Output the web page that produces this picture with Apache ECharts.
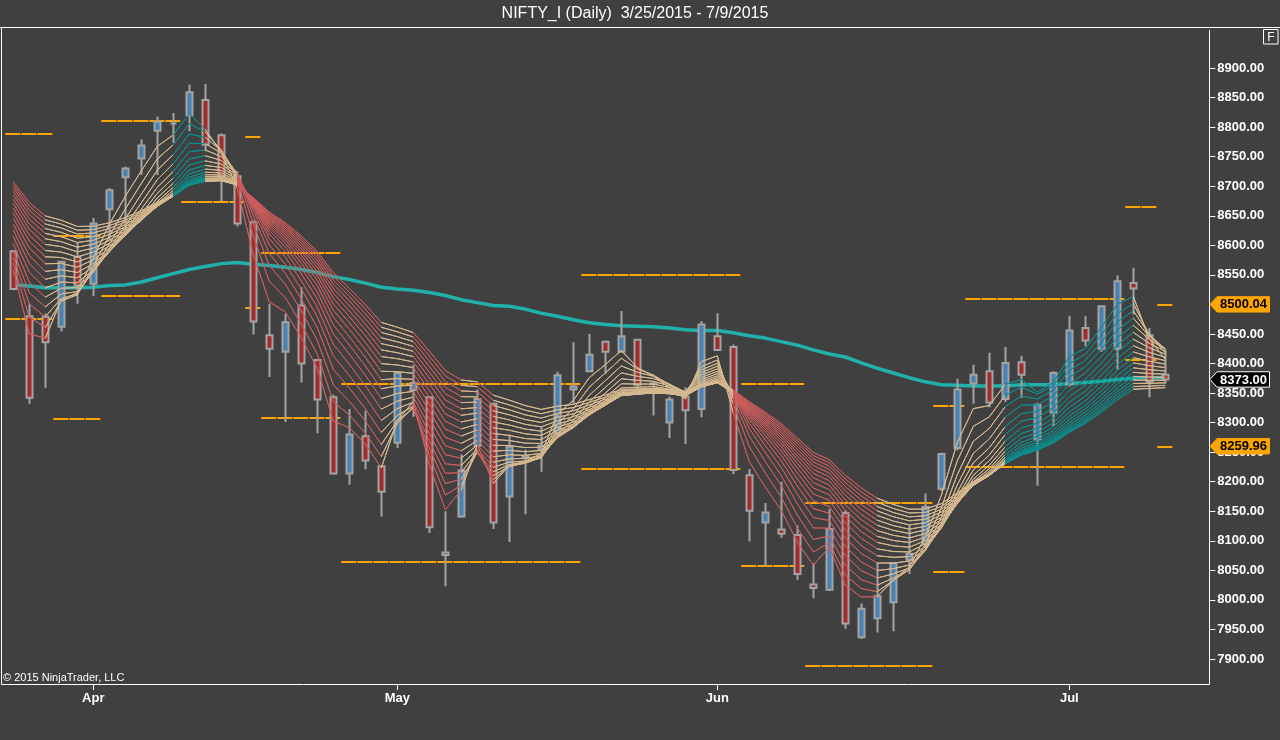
<!DOCTYPE html>
<html><head><meta charset="utf-8">
<script src="https://cdn.jsdelivr.net/npm/echarts@6/dist/echarts.min.js"></script>
<style>html,body{margin:0;padding:0;background:#404040;overflow:hidden}#c{width:1280px;height:740px}</style>
</head><body><div id="c"></div>
<script>
// ---- data ----
const dates = ['2015-03-25','2015-03-26','2015-03-27','2015-03-30','2015-03-31','2015-04-01','2015-04-06','2015-04-07','2015-04-08','2015-04-09',
'2015-04-10','2015-04-13','2015-04-15','2015-04-16','2015-04-17','2015-04-20','2015-04-21','2015-04-22','2015-04-23','2015-04-24',
'2015-04-27','2015-04-28','2015-04-29','2015-04-30','2015-05-04','2015-05-05','2015-05-06','2015-05-07','2015-05-08','2015-05-11',
'2015-05-12','2015-05-13','2015-05-14','2015-05-15','2015-05-18','2015-05-19','2015-05-20','2015-05-21','2015-05-22','2015-05-25',
'2015-05-26','2015-05-27','2015-05-28','2015-05-29','2015-06-01','2015-06-02','2015-06-03','2015-06-04','2015-06-05','2015-06-08',
'2015-06-09','2015-06-10','2015-06-11','2015-06-12','2015-06-15','2015-06-16','2015-06-17','2015-06-18','2015-06-19','2015-06-22',
'2015-06-23','2015-06-24','2015-06-25','2015-06-26','2015-06-29','2015-06-30','2015-07-01','2015-07-02','2015-07-03','2015-07-06',
'2015-07-07','2015-07-08','2015-07-09'];
const padDates = ['2015-07-10','2015-07-13'];
const opens  = [8590,8480,8479,8462,8580,8535,8661,8715,8747,8794, 8806,8820,8846,8786,8717,8639,8448,8420,8498,8406,
                8343,8214,8277,8226,8266,8355,8343,8080,8141,8261, 8332,8175,8243,8255,8280,8356,8387,8437,8420,8440,
                8366,8300,8344,8323,8446,8428,8211,8131,8119,8110, 8026,8017,8147,7937,7969,7996,8068,8095,8188,8257,
                8366,8387,8340,8402,8272,8317,8365,8460,8425,8425, 8536,8448,8381];
const highs  = [8592,8501,8484,8573,8604,8646,8697,8733,8779,8818, 8824,8872,8873,8789,8725,8642,8501,8484,8529,8408,
                8347,8323,8320,8228,8387,8398,8345,8150,8246,8356, 8334,8280,8254,8294,8386,8436,8450,8439,8489,8442,
                8370,8344,8360,8472,8485,8432,8221,8164,8200,8126, 8062,8154,8151,7994,8063,8064,8126,8180,8249,8374,
                8398,8418,8428,8413,8333,8387,8481,8480,8498,8549, 8562,8460,8423];
const lows   = [8524,8332,8359,8454,8501,8514,8608,8618,8719,8719, 8773,8793,8759,8674,8632,8449,8377,8301,8368,8282,
                8212,8195,8221,8141,8257,8310,8113,8023,8139,8259, 8120,8098,8145,8217,8278,8332,8385,8383,8418,8356,
                8312,8274,8264,8309,8422,8213,8099,8057,8105,8034, 8003,8015,7951,7934,7945,7947,8044,8088,8184,8253,
                8332,8326,8335,8342,8193,8294,8361,8429,8420,8390, 8483,8343,8366];
const closes = [8526,8342,8436,8572,8532,8637,8693,8730,8769,8809, 8806,8859,8770,8716,8637,8471,8425,8470,8400,8339,
                8214,8280,8236,8183,8384,8367,8123,8076,8219,8340, 8131,8259,8241,8261,8380,8361,8415,8420,8446,8364,
                8365,8339,8321,8466,8423,8220,8151,8148,8112,8044, 8020,8120,7960,7985,8006,8062,8078,8157,8247,8356,
                8381,8334,8401,8381,8330,8384,8456,8439,8497,8539, 8527,8369,8373];
// thick teal moving average
const maValues = [8533,8531,8528,8528,8528,8529,8532,8533,8538,8545, 8552,8559,8564,8569,8571,8568,8566,8563,8559,8554,
                  8547,8542,8536,8529,8526,8524,8520,8515,8508,8503, 8498,8497,8492,8485,8480,8474,8469,8466,8464,8463,
                  8462,8460,8457,8456,8456,8452,8447,8443,8437,8431, 8423,8416,8411,8401,8392,8384,8376,8369,8364,8363,
                  8362,8362,8362,8364,8364,8364,8366,8368,8370,8373, 8375,8376,8376];
// EMA ribbon: periods and their values on the first bar
const ribbonPeriods = [3,4,5,6,7,8,9,10,11,12,13,14,15,16,17,18,19,20];
const ribbonStart   = [8558,8569,8580,8591,8603,8615,8626,8636,8646,8655,8663,8671,8678,8685,8691,8697,8702,8707];
// ribbon colour phases: [fromBar, toBar, state]
const ribbonPhases = [[0,2,'down'],[2,10,'mixed'],[10,12,'up'],[12,14,'mixed'],[14,23,'down'],[23,25,'mixed'],
  [25,28,'down'],[28,29,'mixed'],[29,30,'down'],[30,45,'mixed'],[45,54,'down'],[54,62,'mixed'],[62,70,'up'],[70,73,'mixed']];
// orange level segments
const levelStart = [0,0,3,3,6,6,11,15,15,16,16,21,21,36,36,46,46,50,50,58,58,60,60,70,70,72,72];
const levelEnd   = [2,2,5,5,10,10,14,15,15,20,20,35,35,45,45,49,49,57,57,59,59,69,69,71,71,72,72];
const levelValue = [8789,8475,8617,8307,8811,8514,8674,8784,8495,8587,8309,8365,8064,8551,8222,8365,8057,8165,7889,8329,8048,8509,8226,8666,8406,8500.04,8259.96];
const yMin = 7850, yMax = 8950, yStep = 50;
const titleText = 'NIFTY_I (Daily)  3/25/2015 - 7/9/2015';
const copyText = '\u00A9 2015 NinjaTrader, LLC';
const monthNames = ['Jan','Feb','Mar','Apr','May','Jun','Jul','Aug','Sep','Oct','Nov','Dec'];

// ---- build ----
const cats = dates.concat(padDates);
const candleData = opens.map((o,i)=>[o, closes[i], lows[i], highs[i]]);
const phaseColor = {down:'rgba(206,92,92,0.9)', mixed:'#D6B88F', up:'#0B8E8E'};
function ema(period, start){
  const a = 2/(period+1); const out=[[0,start]]; let v=start;
  for(let i=1;i<closes.length;i++){ v = v + a*(closes[i]-v); out.push([i, v]); }
  return out;
}
const FONT = '"Liberation Sans", Arial, sans-serif';
const isMonthStart = (idx) => idx>0 && idx<cats.length && cats[idx].slice(5,7)!==cats[idx-1].slice(5,7);

const series = [];
series.push({type:'lines', coordinateSystem:'cartesian2d', xAxisIndex:1, yAxisIndex:0, z:1, silent:true,
  lineStyle:{color:'#FFA500', width:2, type:[15,1], opacity:1},
  data: levelValue.map((v,i)=>({coords:[[levelStart[i]-0.5, v],[levelEnd[i]+0.5, v]]}))});
series.push({type:'line', xAxisIndex:0, z:2, data: maValues, showSymbol:false, silent:true,
  lineStyle:{color:'#20B2AA', width:3.5}});
series.push({type:'candlestick', xAxisIndex:0, z:3, data:candleData, barWidth:7, silent:true,
  itemStyle:{color:'#4682B4', color0:'#A52A2A', borderColor:'#A3A3A3', borderColor0:'#A3A3A3', borderColorDoji:'#A3A3A3', borderWidth:2}});
const ribbonIdx = [];
ribbonPeriods.forEach((p,k)=>{
  ribbonIdx.push(series.length);
  series.push({type:'line', xAxisIndex:0, z:4, data: ema(p, ribbonStart[k]), showSymbol:false, silent:true,
    lineStyle:{width:1}});
});

const chart = echarts.init(document.getElementById('c'), null, {renderer:'canvas'});
chart.setOption({
  backgroundColor:'#404040',
  animation:false,
  grid:{left:5.3, right:74.7, top:38.45, bottom:51.45, outerBoundsMode:'none', containLabel:false},
  visualMap:{type:'piecewise', show:false, dimension:0, seriesIndex:ribbonIdx,
    pieces: ribbonPhases.map(ph=>({gte:ph[0], lt:ph[1], color:phaseColor[ph[2]]})),
    outOfRange:{color:phaseColor.mixed}},
  xAxis:[{type:'category', data:cats, boundaryGap:true, offset:-4.55,
      axisLine:{show:false, onZero:false},
      axisTick:{show:true, alignWithLabel:true, length:6, interval:(i)=>isMonthStart(i), lineStyle:{color:'#FFFFFF', width:1}},
      axisLabel:{interval:(i)=>isMonthStart(i), formatter:(v)=>monthNames[parseInt(v.slice(5,7),10)-1],
        color:'#FFFFFF', fontWeight:'bold', fontSize:13, fontFamily:FONT, margin:8},
      splitLine:{show:false}},
    {type:'value', min:-0.5, max:74.5, show:false, axisLine:{onZero:false}}],
  yAxis:{type:'value', position:'right', offset:4, min:yMin, max:yMax, interval:yStep, scale:true,
    axisLine:{show:false, onZero:false}, axisTick:{show:true, length:6, lineStyle:{color:'#FFFFFF'}},
    axisLabel:{color:'#FFFFFF', fontWeight:'bold', fontSize:13, fontFamily:FONT, margin:8,
      showMinLabel:false, showMaxLabel:false,
      formatter:(v)=> (v<=yMin||v>=yMax)?'':v.toFixed(2)},
    splitLine:{show:false}},
  series
});

// ---- decorations: frame, title, price tags ----
const yOf = v => chart.convertToPixel({yAxisIndex:0}, v);
function tag(value, text, bg, fg, stroke){
  const y = yOf(value), h = 7.7;
  return [{type:'polygon', z:100, shape:{points:[[1210,y],[1217,y-h],[1269.5,y-h],[1269.5,y+h],[1217,y+h]]},
      style:{fill:bg, stroke:stroke||bg, lineWidth:1}},
    {type:'text', z:101, style:{text, x:1243.5, y:y+0.5, align:'center', verticalAlign:'middle',
      fill:fg, font:'bold 13px '+FONT}}];
}
const g = [
  {type:'line', z:90, shape:{x1:0,y1:27.5,x2:1280,y2:27.5}, style:{stroke:'#FFFFFF', lineWidth:1}},
  {type:'polyline', z:90, shape:{points:[[1.5,27.5],[1.5,684.5],[1209.5,684.5],[1209.5,30]]}, style:{stroke:'#FFFFFF', lineWidth:1, fill:null}},
  {type:'text', z:90, style:{text:titleText, x:635, y:13.5, align:'center', verticalAlign:'middle', fill:'#FFFFFF', font:'16px '+FONT}},
  {type:'text', z:90, style:{text:copyText, x:3, y:678, align:'left', verticalAlign:'middle', fill:'#FFFFFF', font:'11px '+FONT}},
  {type:'rect', z:90, shape:{x:1263.5,y:29.5,width:14.5,height:14.5}, style:{fill:null, stroke:'#FFFFFF', lineWidth:1}},
  {type:'text', z:90, style:{text:'F', x:1271,y:37.5, align:'center', verticalAlign:'middle', fill:'#FFFFFF', font:'12px '+FONT}}
].concat(
  tag(levelValue[25], levelValue[25].toFixed(2), '#FFA500', '#000000'),
  tag(levelValue[26], levelValue[26].toFixed(2), '#FFA500', '#000000'),
  tag(closes[closes.length-1], closes[closes.length-1].toFixed(2), '#000000', '#FFFFFF', '#FFFFFF')
);
chart.setOption({graphic:{elements:g}});
</script></body></html>
